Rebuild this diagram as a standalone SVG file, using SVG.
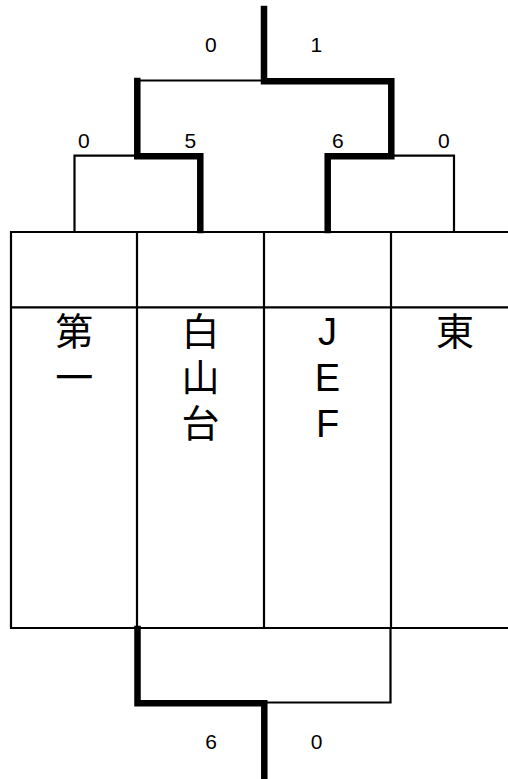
<svg xmlns="http://www.w3.org/2000/svg" width="508" height="779" viewBox="0 0 508 779">
<style>
.thin{fill:none;stroke:#000;stroke-width:2.2;stroke-linecap:square}
.thick{fill:none;stroke:#000;stroke-width:6.5;stroke-linecap:square;stroke-linejoin:miter}
.grid{fill:none;stroke:#000;stroke-width:2.2}
.score{font-family:"Liberation Sans",Arial,sans-serif;font-size:21px;text-anchor:middle;fill:#000}
.name{font-family:"Liberation Sans","Noto Sans CJK JP",sans-serif;font-size:38px;text-anchor:middle;fill:#000}
</style>
<rect width="508" height="779" fill="#fff"/>
<g id="connectors">
  <polyline class="thin" points="137,80.5 264,80.5"/>
  <polyline class="thick" points="264,9 264,81.3 391.3,81.3 391.3,156.3 327.7,156.3 327.7,230"/>
  <polyline class="thick" points="137.3,81 137.3,156.3 200.3,156.3 200.3,230"/>
  <polyline class="thin" points="137,155.7 74.5,155.7 74.5,232"/>
  <polyline class="thin" points="391,155.7 454,155.7 454,232"/>
  <polyline class="thick" points="137.5,629 137.5,703.3 264.3,703.3 264.3,776"/>
  <polyline class="thin" points="264,702.5 390.5,702.5 390.5,628"/>
</g>
<g id="grid">
  <line class="grid" x1="11" y1="232" x2="508" y2="232"/>
  <line class="grid" x1="11" y1="307.3" x2="508" y2="307.3"/>
  <line class="grid" x1="11" y1="628" x2="508" y2="628"/>
  <line class="grid" x1="11" y1="231" x2="11" y2="629"/>
  <line class="grid" x1="137" y1="231" x2="137" y2="629"/>
  <line class="grid" x1="264" y1="231" x2="264" y2="629"/>
  <line class="grid" x1="391" y1="231" x2="391" y2="629"/>
</g>
<g id="scores">
  <text class="score" x="210.8" y="51.7">0</text>
  <text class="score" x="316.3" y="51.7">1</text>
  <text class="score" x="83.8" y="148.3">0</text>
  <text class="score" x="190.3" y="148.3">5</text>
  <text class="score" x="337.8" y="148.3">6</text>
  <text class="score" x="443.8" y="148.3">0</text>
  <text class="score" x="211" y="749.3">6</text>
  <text class="score" x="316.7" y="749.3">0</text>
</g>
<g id="team-daiichi">
  <text class="name" x="74.2" y="345">第</text>
  <text class="name" x="74.2" y="391">一</text>
</g>
<g id="team-hakusandai">
  <text class="name" x="200.5" y="345">白</text>
  <text class="name" x="200.5" y="391">山</text>
  <text class="name" x="200.5" y="437">台</text>
</g>
<g id="team-jef">
  <text class="name" x="327.5" y="345">J</text>
  <text class="name" x="327.5" y="390.5">E</text>
  <text class="name" x="327.5" y="436.5">F</text>
</g>
<g id="team-higashi">
  <text class="name" x="455" y="345">東</text>
</g>
</svg>
